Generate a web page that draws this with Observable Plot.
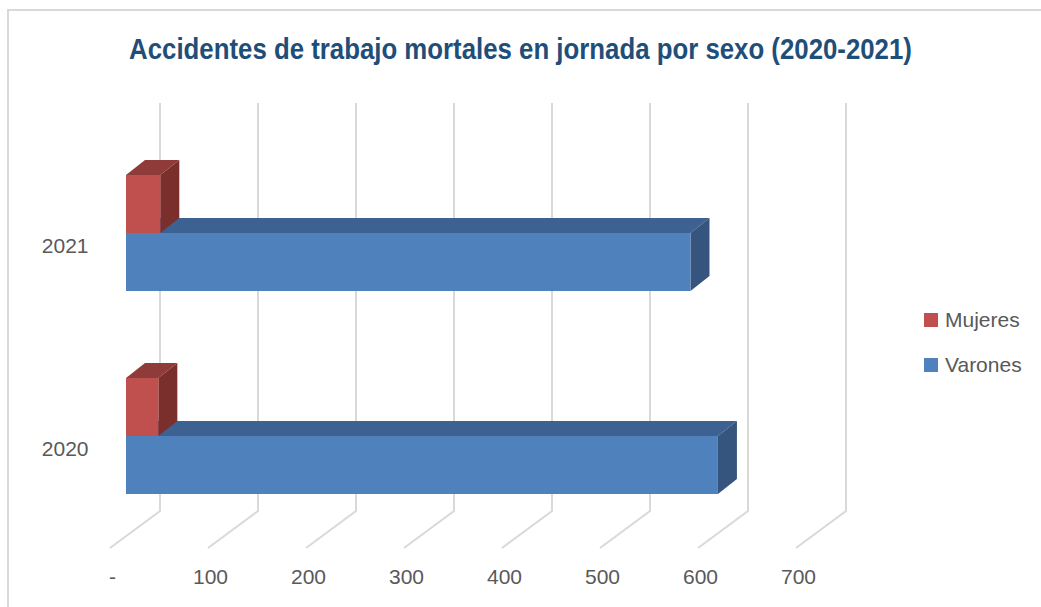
<!DOCTYPE html>
<html>
<head>
<meta charset="utf-8">
<script src="https://cdn.jsdelivr.net/npm/d3@7"></script>
<script src="https://cdn.jsdelivr.net/npm/@observablehq/plot@0.6"></script>
<style>
  html, body { margin: 0; padding: 0; background: #fff; overflow: hidden; }
  #wrap { position: relative; width: 1041px; height: 607px; overflow: hidden; background: #fff; }
  #border { position: absolute; left: 7px; top: 9px; width: 1200px; height: 800px; border: 2px solid #d9d9d9; box-sizing: border-box; }
  #title { position: absolute; top: 33px; left: 0; width: 1041px; text-align: center; white-space: nowrap;
           font-family: "Liberation Sans Narrow", "Liberation Sans", sans-serif; font-weight: bold; color: #1f4e79; font-size: 28px; line-height: 32px; }
  #title span { display: inline-block; transform: scaleY(1.12); transform-origin: 50% 50%; }
  #chart { position: absolute; left: 0; top: 0; }
  .leg { position: absolute; left: 924px; font-family: "Liberation Sans Narrow", "Liberation Sans", sans-serif; font-size: 21px; color: #595959; white-space: nowrap; }
  .leg i { position: absolute; left: 0; width: 14px; height: 14px; }
  .leg span { position: absolute; left: 21px; line-height: 20px; }
</style>
</head>
<body>
<div id="wrap">
  <div id="border"></div>
  <div id="title"><span id="titletext">Accidentes de trabajo mortales en jornada por sexo (2020-2021)</span></div>
  <div id="chart"></div>
  <div id="legend"></div>
</div>
<script>
// ---- data ----
const years = ["2021", "2020"];
const series = ["Mujeres", "Varones"];
const mujeres = [35, 33];
const varones = [576, 604];
const xTicks = [0, 100, 200, 300, 400, 500, 600, 700];
const xTickLabels = ["-", "100", "200", "300", "400", "500", "600", "700"];

// ---- styles ----
const colors = {
  Mujeres: {front: "#c0504d", top: "#8f3b39", side: "#7b2f2d"},
  Varones: {front: "#4f81bd", top: "#3d6191", side: "#35557e"}
};
const FONT = '"Liberation Sans Narrow", "Liberation Sans", sans-serif';
const DX = 19, DY = 15;            // bar depth (pixels)
const FLOOR_DX = 50, FLOOR_DY = 37; // floor depth (pixels)
const BAR_IN = 16;                  // bar front offset into floor

const rows = [];
years.forEach((y, i) => {
  rows.push({year: y, sexo: "Mujeres", value: mujeres[i]});
  rows.push({year: y, sexo: "Varones", value: varones[i]});
});
const ticks = xTicks.map((v, i) => ({v, label: xTickLabels[i]}));

function faces(sexo) {
  return (index, scales, values, dim) => {
    const x = scales.x, y = scales.y;
    const bw = y.bandwidth();
    const g = d3.create("svg:g");
    rows.filter(r => r.sexo === sexo).forEach(r => {
      const x0 = x(0), x1 = x(r.value);
      const yt = y(r.year) + (sexo === "Mujeres" ? 0 : bw / 2);
      const yb = yt + bw / 2;
      g.append("polygon")
        .attr("points", [[x0, yt], [x0 + DX, yt - DY], [x1 + DX, yt - DY], [x1, yt]].join(" "))
        .attr("fill", colors[sexo].top);
      g.append("polygon")
        .attr("points", [[x1, yt], [x1 + DX, yt - DY], [x1 + DX, yb - DY], [x1, yb]].join(" "))
        .attr("fill", colors[sexo].side);
    });
    return g.node();
  };
}

function floorLines(index, scales, values, dim) {
  const x = scales.x;
  const bottom = dim.height - dim.marginBottom;
  const g = d3.create("svg:g").attr("stroke", "#d9d9d9").attr("stroke-width", 2).attr("fill", "none");
  xTicks.forEach(v => {
    const xb = x(v) - BAR_IN + FLOOR_DX;
    g.append("path")
      .attr("d", `M${x(v) - BAR_IN},${bottom}L${xb},${bottom - FLOOR_DY}L${xb},${dim.marginTop}`);
  });
  return g.node();
}

const plot = Plot.plot({
  width: 1041,
  height: 607,
  marginLeft: 126,
  marginRight: 229,
  marginTop: 103,
  marginBottom: 59,
  style: {background: "transparent", fontFamily: FONT},
  x: {domain: [0, 700], axis: null},
  y: {type: "band", domain: years, paddingInner: 0.4286, paddingOuter: 0.31, align: 0.571, axis: null},
  marks: [
    floorLines,
    faces("Varones"),
    Plot.barX(rows.filter(r => r.sexo === "Varones"), {x: "value", y: "year", fill: colors.Varones.front, insetTop: 58}),
    faces("Mujeres"),
    Plot.barX(rows.filter(r => r.sexo === "Mujeres"), {x: "value", y: "year", fill: colors.Mujeres.front, insetBottom: 58}),
    Plot.text(ticks, {x: "v", text: "label", frameAnchor: "bottom", dy: 35, dx: -14, fill: "#595959", fontSize: 21, fontFamily: FONT}),
    Plot.text(years, {y: d => d, text: d => d, frameAnchor: "left", dx: -38, dy: 13, textAnchor: "end", fill: "#595959", fontSize: 21, fontFamily: FONT})
  ]
});
document.getElementById("chart").appendChild(plot);

// legend
const legend = document.getElementById("legend");
series.forEach((s, i) => {
  const top = 313 + i * 45;
  const d = document.createElement("div");
  d.className = "leg";
  d.style.top = top + "px";
  d.innerHTML = `<i style="background:${colors[s].front}"></i><span style="top:-3px">${s}</span>`;
  legend.appendChild(d);
});

// fit title width
const t = document.getElementById("titletext");
const target = 783;
const w = t.getBoundingClientRect().width;
const fs = 28 * target / w;
t.style.fontSize = fs.toFixed(2) + "px";
</script>
</body>
</html>
